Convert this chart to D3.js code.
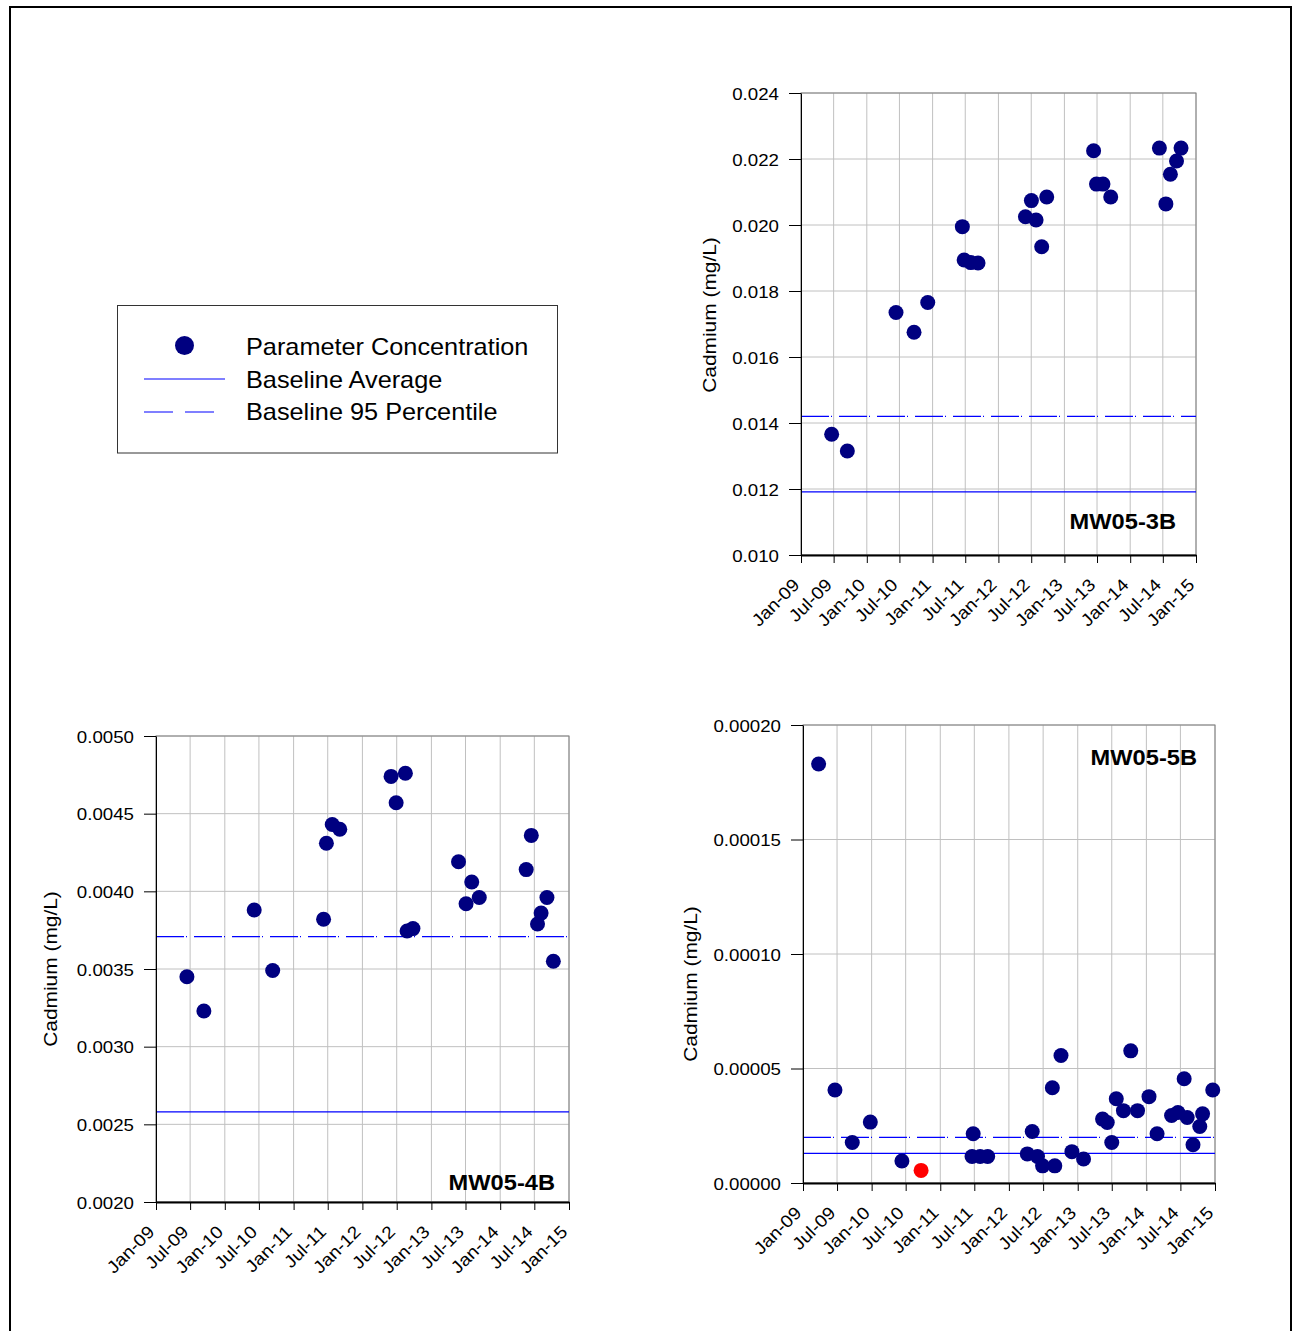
<!DOCTYPE html>
<html><head><meta charset="utf-8">
<script src="https://cdn.jsdelivr.net/npm/d3@7/dist/d3.min.js"></script>
<style>
body{margin:0;background:#fff}
svg{display:block}
text{font-family:"Liberation Sans",Arial,sans-serif;fill:#000}
</style>
</head><body>
<svg id="c" width="1293" height="1331"></svg>
<script>
// ---------- data ----------
const xTickDates = ["2009-01-01","2009-07-01","2010-01-01","2010-07-01","2011-01-01","2011-07-01","2012-01-01","2012-07-01","2013-01-01","2013-07-01","2014-01-01","2014-07-01","2015-01-01"];

const legendLabels = ["Parameter Concentration","Baseline Average","Baseline 95 Percentile"];
const yTitle = "Cadmium (mg/L)";

// MW05-3B
const mw3bTicks = [0.010,0.012,0.014,0.016,0.018,0.020,0.022,0.024];
const mw3bDates = ["2009-06-20","2009-09-15","2010-06-12","2010-09-20","2010-12-05","2011-06-15","2011-06-25","2011-08-01","2011-09-10","2012-05-30","2012-07-02","2012-07-28","2012-08-28","2012-09-25","2013-06-12","2013-06-28","2013-08-03","2013-09-15","2014-06-12","2014-07-18","2014-08-12","2014-09-15","2014-10-10"];
const mw3bValues = [0.01366,0.01315,0.01735,0.01675,0.01765,0.01995,0.01894,0.01886,0.01885,0.02025,0.02074,0.02015,0.01934,0.02085,0.02225,0.02124,0.02124,0.02085,0.02233,0.02064,0.02154,0.02194,0.02233];
const mw3bAvg = 0.01191;
const mw3bP95 = 0.0142;

// MW05-4B
const mw4bTicks = [0.0020,0.0025,0.0030,0.0035,0.0040,0.0045,0.0050];
const mw4bDates = ["2009-06-14","2009-09-12","2010-06-06","2010-09-12","2011-06-09","2011-06-24","2011-07-25","2011-09-03","2012-06-01","2012-06-28","2012-08-16","2012-08-25","2012-09-25","2013-05-25","2013-07-04","2013-08-03","2013-09-12","2014-05-19","2014-06-15","2014-07-18","2014-08-06","2014-09-06","2014-10-10"];
const mw4bValues = [0.00345,0.00323,0.00388,0.00349,0.00382,0.00431,0.00443,0.00440,0.00474,0.00457,0.00476,0.003745,0.00376,0.00419,0.00392,0.00406,0.00396,0.00414,0.00436,0.00379,0.00386,0.00396,0.00355];
const mw4bAvg = 0.00258;
const mw4bP95 = 0.003708;

// MW05-5B
const mw5bTicks = [0.00000,0.00005,0.00010,0.00015,0.00020];
const mw5bDates = ["2009-03-25","2009-06-20","2009-09-20","2009-12-25","2010-06-11","2011-06-19","2011-06-25","2011-08-01","2011-09-10","2012-04-08","2012-05-04","2012-06-01","2012-06-28","2012-08-19","2012-09-01","2012-10-04","2012-12-01","2013-02-01","2013-05-13","2013-06-07","2013-07-01","2013-07-25","2013-09-01","2013-10-10","2013-11-15","2014-01-15","2014-02-27","2014-05-15","2014-06-18","2014-07-21","2014-08-06","2014-09-06","2014-10-12","2014-10-27","2014-12-20"];
const mw5bValues = [0.000183,0.0000406,0.0000177,0.0000266,0.0000096,0.0000116,0.0000215,0.0000116,0.0000116,0.0000127,0.0000225,0.0000116,0.0000075,0.0000416,0.0000075,0.0000557,0.0000137,0.0000105,0.0000279,0.0000264,0.0000177,0.0000368,0.0000316,0.0000577,0.0000316,0.0000377,0.0000215,0.0000295,0.0000308,0.0000455,0.0000286,0.0000167,0.0000247,0.0000302,0.0000406];
const mw5bFlagDates = ["2010-09-21"];
const mw5bFlagValues = [0.0000055];
const mw5bAvg = 0.0000129;
const mw5bP95 = 0.0000199;

// ---------- drawing ----------
const SX = 1.1;
const NAVY = "#000080", BLUE = "#0000ff", GRID = "#c0c0c0";
const parse = d3.timeParse("%Y-%m-%d");
const svg = d3.select("#c");

svg.append("rect").attr("x",10).attr("y",7).attr("width",1281).attr("height",1340)
  .attr("fill","none").attr("stroke","#000").attr("stroke-width",2);

function stext(g, x, y, str, o) {
  o = o || {};
  const t = g.append("text")
    .attr("transform", `translate(${x},${y}) rotate(${o.rot||0}) scale(${SX},1)`)
    .attr("text-anchor", o.anchor || "start")
    .style("font-size", (o.size||16) + "px")
    .style("font-weight", o.weight || "normal")
    .text(str);
  return t;
}

function chart(c) {
  const g = svg.append("g");
  const x = d3.scaleTime().domain([parse("2009-01-01"), parse("2015-01-01")]).range([c.left, c.right]);
  const y = d3.scaleLinear().domain([c.ticks[0], c.ticks[c.ticks.length-1]]).range([c.bottom, c.top]);
  const xt = xTickDates.map(parse);

  // grid
  g.append("g").selectAll("line.v").data(xt).join("line")
    .attr("x1", d => x(d)).attr("x2", d => x(d)).attr("y1", c.top).attr("y2", c.bottom)
    .attr("stroke", GRID).attr("stroke-width", 1);
  g.append("g").selectAll("line.h").data(c.ticks).join("line")
    .attr("x1", c.left).attr("x2", c.right).attr("y1", d => y(d)).attr("y2", d => y(d))
    .attr("stroke", GRID).attr("stroke-width", 1);
  g.append("rect").attr("x", c.left).attr("y", c.top).attr("width", c.right - c.left).attr("height", c.bottom - c.top)
    .attr("fill", "none").attr("stroke", "#808080").attr("stroke-width", 1);

  // baselines
  g.append("line").attr("x1", c.left).attr("x2", c.right).attr("y1", y(c.avg)).attr("y2", y(c.avg))
    .attr("stroke", BLUE).attr("stroke-width", 1.2);
  g.append("line").attr("x1", c.left).attr("x2", c.right).attr("y1", y(c.p95)).attr("y2", y(c.p95))
    .attr("stroke", BLUE).attr("stroke-width", 1.2).attr("stroke-dasharray", "28,2,1,7");

  // axes
  const ya = g.append("g").attr("transform", `translate(${c.left},0)`)
    .call(d3.axisLeft(y).tickValues(c.ticks).tickFormat(d3.format(c.fmt)).tickSize(12).tickSizeOuter(0));
  ya.select(".domain").attr("stroke", "#000");
  ya.selectAll(".tick line").attr("stroke", "#000");
  ya.selectAll(".tick text").attr("x", null).attr("dy", "0.36em")
    .attr("transform", `translate(-22,0) scale(${SX},1)`).attr("text-anchor", "end")
    .style("font-size", "17px").attr("font-family", null);

  const xa = g.append("g").attr("transform", `translate(0,${c.bottom})`)
    .call(d3.axisBottom(x).tickValues(xt).tickFormat(d3.timeFormat("%b-%y")).tickSize(8).tickSizeOuter(0));
  xa.select(".domain").attr("stroke", "#000").attr("stroke-width", 2);
  xa.selectAll(".tick line").attr("stroke", "#000");
  xa.selectAll(".tick text").attr("y", null).attr("dy", null)
    .attr("transform", `translate(-1,31) rotate(-45) scale(${SX},1)`).attr("text-anchor", "end")
    .style("font-size", "17.5px").attr("font-family", null);

  // y title
  stext(g, c.titleX, c.titleY, yTitle, {rot: -90, anchor: "middle", size: 19});
  // station
  stext(g, c.stX, c.stY, c.station, {anchor: "end", size: 21.5, weight: "bold"});

  // points
  const pts = c.dates.map((d, i) => ({d: parse(d), v: c.values[i]}));
  g.append("g").selectAll("circle").data(pts).join("circle")
    .attr("cx", p => x(p.d)).attr("cy", p => y(p.v)).attr("r", 7.5).attr("fill", NAVY);
  if (c.flagDates) {
    const fp = c.flagDates.map((d, i) => ({d: parse(d), v: c.flagValues[i]}));
    g.append("g").selectAll("circle").data(fp).join("circle")
      .attr("cx", p => x(p.d)).attr("cy", p => y(p.v)).attr("r", 7.5).attr("fill", "#ff0000");
  }
}

chart({left: 801, right: 1196, top: 93, bottom: 555, ticks: mw3bTicks, fmt: ".3f",
  dates: mw3bDates, values: mw3bValues, avg: mw3bAvg, p95: mw3bP95,
  station: "MW05-3B", stX: 1176, stY: 529, titleX: 716, titleY: 315});
chart({left: 156, right: 569, top: 736, bottom: 1202, ticks: mw4bTicks, fmt: ".4f",
  dates: mw4bDates, values: mw4bValues, avg: mw4bAvg, p95: mw4bP95,
  station: "MW05-4B", stX: 555, stY: 1190, titleX: 57, titleY: 969});
chart({left: 803, right: 1215, top: 725, bottom: 1183, ticks: mw5bTicks, fmt: ".5f",
  dates: mw5bDates, values: mw5bValues, flagDates: mw5bFlagDates, flagValues: mw5bFlagValues,
  avg: mw5bAvg, p95: mw5bP95,
  station: "MW05-5B", stX: 1197, stY: 765, titleX: 697, titleY: 984});

// legend
const lg = svg.append("g");
lg.append("rect").attr("x", 117.5).attr("y", 305.5).attr("width", 440).attr("height", 147.5)
  .attr("fill", "#fff").attr("stroke", "#333").attr("stroke-width", 1);
lg.append("circle").attr("cx", 184.5).attr("cy", 345.5).attr("r", 9.5).attr("fill", NAVY);
lg.append("line").attr("x1", 144).attr("x2", 225).attr("y1", 379).attr("y2", 379).attr("stroke", BLUE).attr("stroke-width", 1.2);
lg.append("line").attr("x1", 144).attr("x2", 215).attr("y1", 412).attr("y2", 412).attr("stroke", BLUE).attr("stroke-width", 1.2).attr("stroke-dasharray", "29,12");
[355, 387.5, 420].forEach((yy, i) => stext(lg, 246, yy, legendLabels[i], {size: 23}));
</script>
</body></html>
